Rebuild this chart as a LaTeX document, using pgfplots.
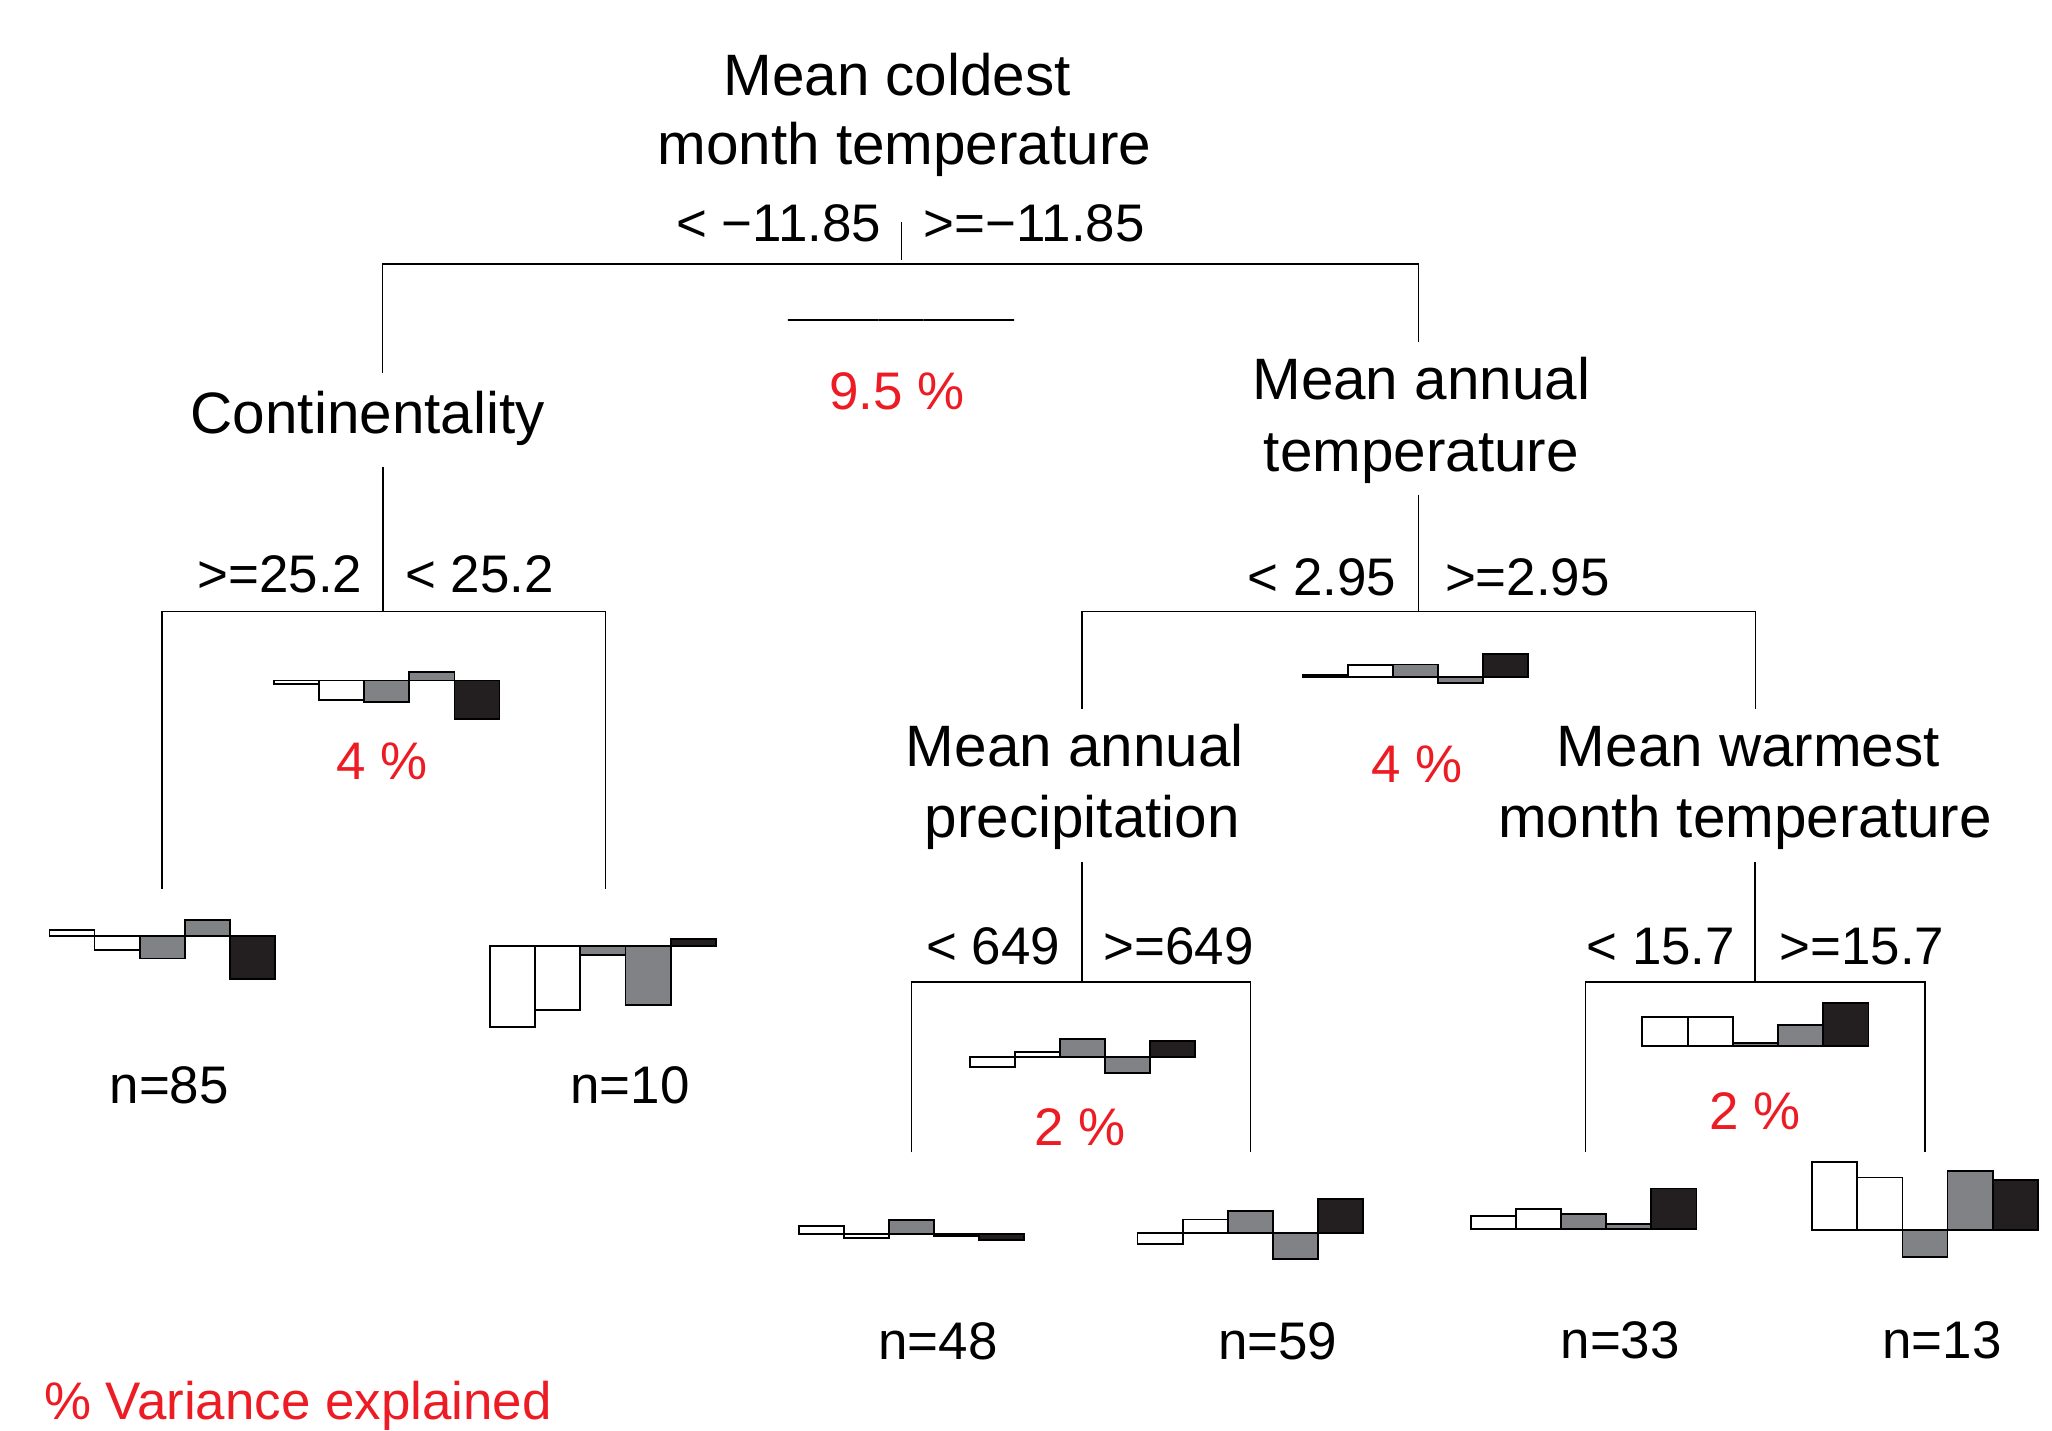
\documentclass[border=0pt]{standalone}
\usepackage{pgfplots}
\pgfplotsset{compat=1.18}
\usepackage{fontspec}
\setmainfont{Liberation Sans}
\definecolor{barG}{HTML}{808285}
\definecolor{barK}{HTML}{231F20}
\definecolor{pctred}{HTML}{ED1C24}

% one bar of a mini chart: colour, x left, x right, baseline, top
\newcommand\onebar[5]{%
  \edef\tmp{\noexpand\addplot[fill=#1,draw=black,line width=0.4pt] coordinates {(#2,#4) (#2,#5) (#3,#5) (#3,#4)} --cycle;}\tmp}
% mini chart: x left, x right, baseline, five values (positive = up)
\newcommand\minichart[8]{%
  \pgfmathsetmacro\mcw{(#2-(#1))/5}%
  \pgfmathsetmacro\xa{#1}%
  \pgfmathsetmacro\xb{#1+\mcw}%
  \pgfmathsetmacro\xc{#1+2*\mcw}%
  \pgfmathsetmacro\xd{#1+3*\mcw}%
  \pgfmathsetmacro\xe{#1+4*\mcw}%
  \pgfmathsetmacro\xf{#2}%
  \pgfmathsetmacro\ta{#3+(#4)}%
  \pgfmathsetmacro\tb{#3+(#5)}%
  \pgfmathsetmacro\tc{#3+(#6)}%
  \pgfmathsetmacro\td{#3+(#7)}%
  \pgfmathsetmacro\te{#3+(#8)}%
  \onebar{white}{\xa}{\xb}{#3}{\ta}%
  \onebar{white}{\xb}{\xc}{#3}{\tb}%
  \onebar{barG}{\xc}{\xd}{#3}{\tc}%
  \onebar{barG}{\xd}{\xe}{#3}{\td}%
  \onebar{barK}{\xe}{\xf}{#3}{\te}%
}

\tikzset{lbl/.style={font=\fontsize{12.7}{15}\selectfont, inner sep=0pt},
         sml/.style={font=\fontsize{11.5}{14}\selectfont, inner sep=0pt},
         pct/.style={sml, text=pctred}}

\begin{document}
\begin{tikzpicture}
\path[use as bounding box] (0,0) rectangle (15.68cm,10.93cm);
\begin{axis}[at={(0,0)}, anchor=south west, scale only axis,
  width=15.68cm, height=10.93cm,
  xmin=0, xmax=1568, ymin=0, ymax=1093,
  hide axis, clip=false]

% ---------- tree lines ----------
\addplot[black, line width=0.35pt] coordinates {(689,923) (689,894)};
\addplot[black, line width=0.35pt] coordinates {(292.4,808.2) (292.4,891.3) (1084,891.3) (1084,832)};
% Continentality
\addplot[black, line width=0.35pt] coordinates {(292.5,736) (292.5,625.6)};
\addplot[black, line width=0.35pt] coordinates {(124,414) (124,625.6) (462.8,625.6) (462.8,414)};
% Mean annual temperature
\addplot[black, line width=0.35pt] coordinates {(1084,715) (1084,625.7)};
\addplot[black, line width=0.35pt] coordinates {(826.7,551) (826.7,625.7) (1341.4,625.7) (1341.4,551)};
% Mean annual precipitation
\addplot[black, line width=0.35pt] coordinates {(826.8,434) (826.8,342.4)};
\addplot[black, line width=0.35pt] coordinates {(696.6,212.5) (696.6,342.4) (955.5,342.4) (955.5,212.5)};
% Mean warmest month temperature
\addplot[black, line width=0.35pt] coordinates {(1341.2,434) (1341.2,342.5)};
\addplot[black, line width=0.35pt] coordinates {(1211.4,212.8) (1211.4,342.5) (1471,342.5) (1471,212.8)};

% ---------- mini bar charts ----------
\minichart{602}{775}{848.5}{0}{0}{0}{0}{0}
\minichart{209.4}{381.7}{573}{-2.4}{-14.7}{-16.1}{6.2}{-29.2}
\minichart{37.8}{210.1}{378}{4.6}{-10.7}{-17.4}{11.8}{-33.2}
\minichart{374.3}{547}{370.4}{-62.2}{-49.3}{-7.2}{-45.3}{5.1}
\minichart{995.4}{1167.8}{575.4}{1.5}{9.4}{9.9}{-4.1}{18.1}
\minichart{740.9}{913.2}{285.1}{-7.6}{3.8}{13.8}{-12.2}{12.5}
\minichart{610.3}{782.5}{150.3}{5.9}{-3.6}{10.4}{-1.8}{-5.1}
\minichart{869.2}{1041.8}{150.8}{-8.4}{10.4}{17.1}{-20.1}{26.2}
\minichart{1255}{1427.8}{293.7}{22.5}{22.5}{2.6}{15.8}{33.1}
\minichart{1124.1}{1296.3}{154.2}{9.8}{15.2}{10.9}{3.6}{30.7}
\minichart{1384.8}{1557.1}{153.1}{52.2}{40.2}{-20.4}{45.3}{38.2}

% ---------- text ----------
\node[lbl, anchor=base] at (axis cs:685.5,1020.4) {Mean coldest};
\node[lbl, anchor=base] at (axis cs:691,967) {month temperature};
\node[sml, anchor=base east] at (axis cs:674,908.3) {< −11.85};
\node[sml, anchor=base west] at (axis cs:705,908.3) {>=−11.85};
\node[pct, anchor=base] at (axis cs:685.5,780) {9.5 \%};

\node[lbl, anchor=base] at (axis cs:281,762) {Continentality};
\node[sml, anchor=base east] at (axis cs:277.6,640.6) {>=25.2};
\node[sml, anchor=base west] at (axis cs:309,640.6) {< 25.2};
\node[pct, anchor=base] at (axis cs:292,497.2) {4 \%};
\node[sml, anchor=base] at (axis cs:129.3,250) {n=85};
\node[sml, anchor=base] at (axis cs:481.5,250) {n=10};

\node[lbl, anchor=base] at (axis cs:1086,787.7) {Mean annual};
\node[lbl, anchor=base] at (axis cs:1086,733) {temperature};
\node[sml, anchor=base east] at (axis cs:1067.5,637.6) {< 2.95};
\node[sml, anchor=base west] at (axis cs:1103.5,637.6) {>=2.95};
\node[pct, anchor=base] at (axis cs:1083,495) {4 \%};

\node[lbl, anchor=base] at (axis cs:821.3,507.2) {Mean annual};
\node[lbl, anchor=base] at (axis cs:827,453) {precipitation};
\node[sml, anchor=base east] at (axis cs:810.7,356.1) {< 649};
\node[sml, anchor=base west] at (axis cs:842.6,356.1) {>=649};
\node[pct, anchor=base] at (axis cs:825.5,218) {2 \%};
\node[sml, anchor=base] at (axis cs:716.7,54) {n=48};
\node[sml, anchor=base] at (axis cs:976.3,54) {n=59};

\node[lbl, anchor=base] at (axis cs:1336,507.2) {Mean warmest};
\node[lbl, anchor=base] at (axis cs:1333.4,453.2) {month temperature};
\node[sml, anchor=base east] at (axis cs:1326.5,356.2) {< 15.7};
\node[sml, anchor=base west] at (axis cs:1359,356.2) {>=15.7};
\node[pct, anchor=base] at (axis cs:1341.4,230.2) {2 \%};
\node[sml, anchor=base] at (axis cs:1238,55.3) {n=33};
\node[sml, anchor=base] at (axis cs:1484,55.3) {n=13};

\node[pct, anchor=base west] at (axis cs:33,8) {\% Variance explained};
\end{axis}
\end{tikzpicture}
\end{document}
